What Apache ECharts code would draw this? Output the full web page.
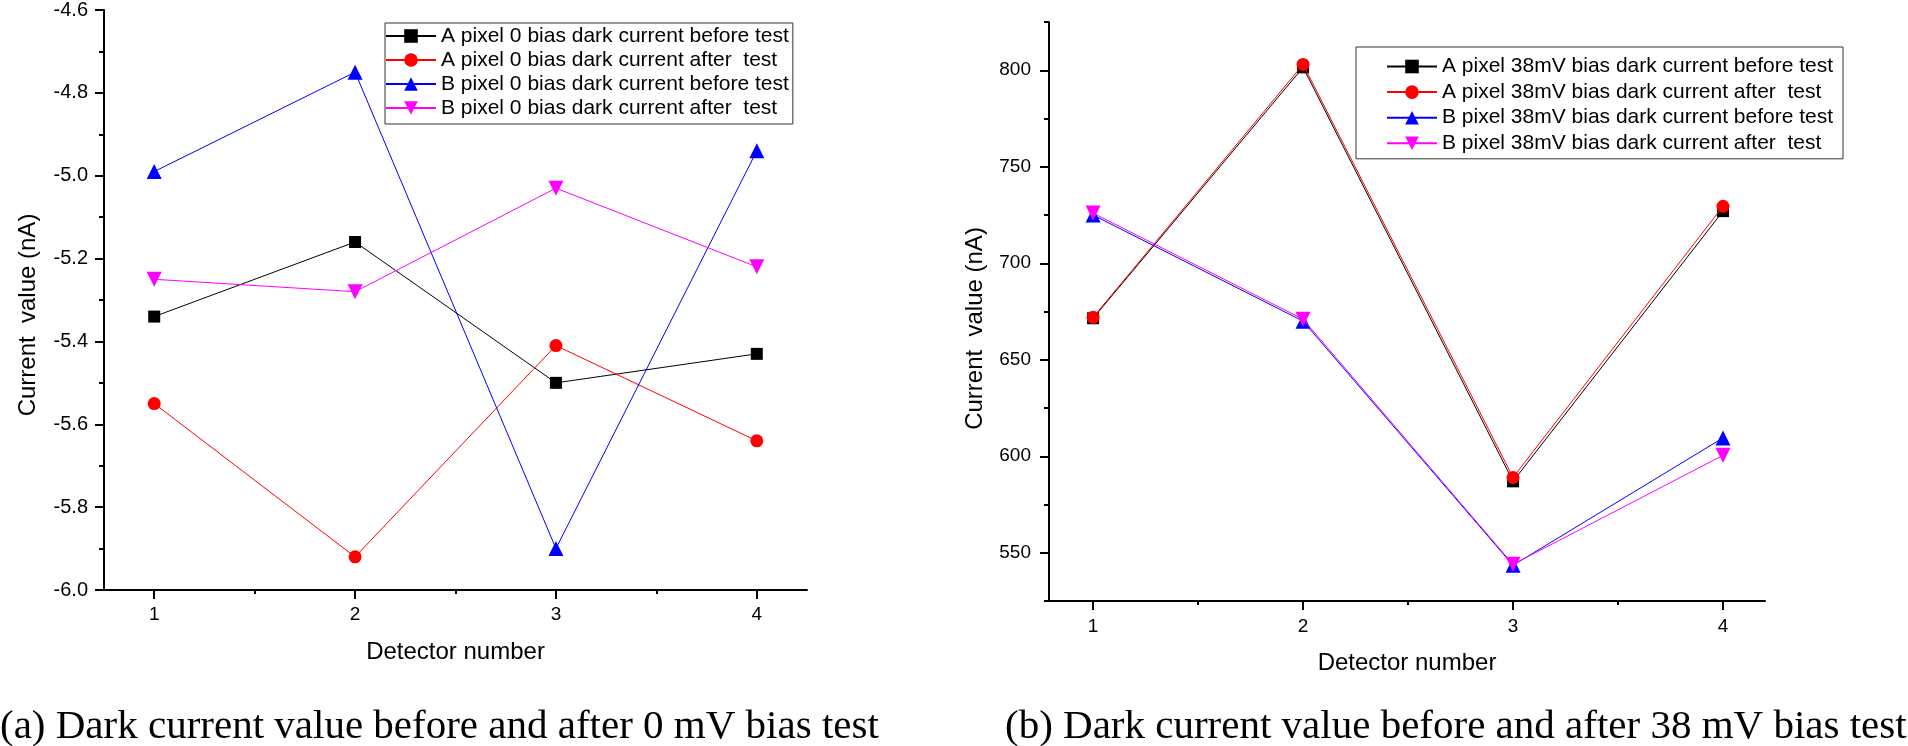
<!DOCTYPE html>
<html>
<head>
<meta charset="utf-8">
<script src="https://cdn.jsdelivr.net/npm/echarts@6/dist/echarts.min.js"></script>
<style>
html,body{margin:0;padding:0;background:#fff;}
#chart{width:1908px;height:746px;}
</style>
</head>
<body>
<div id="chart"></div>
<script>
// ---------- data ----------
const detectors = [1, 2, 3, 4];

const leftNames = [
  'A pixel 0 bias dark current before test',
  'A pixel 0 bias dark current after  test',
  'B pixel 0 bias dark current before test',
  'B pixel 0 bias dark current after  test'
];
const leftABefore = [-5.34, -5.16, -5.50, -5.43];
const leftAAfter  = [-5.55, -5.92, -5.41, -5.64];
const leftBBefore = [-4.99, -4.75, -5.90, -4.94];
const leftBAfter  = [-5.25, -5.28, -5.03, -5.22];

const rightNames = [
  'A pixel 38mV bias dark current before test',
  'A pixel 38mV bias dark current after  test',
  'B pixel 38mV bias dark current before test',
  'B pixel 38mV bias dark current after  test'
];
const rightABefore = [671.5, 801.5, 587, 727];
const rightAAfter  = [672, 803, 589, 729.5];
const rightBBefore = [725, 670, 543.5, 609.5];
const rightBAfter  = [726, 671, 544, 600.5];

const xMajorTicks = [1, 2, 3, 4];
const xMinorTicks = [1.5, 2.5, 3.5];
const rightYMajor = [550, 600, 650, 700, 750, 800];
const rightYMinor = [525, 575, 625, 675, 725, 775, 825];

const xName = 'Detector number';
const yName = 'Current  value (nA)';
const captionA = '(a) Dark current value before and after 0 mV bias test';
const captionB = '(b) Dark current value before and after 38 mV bias test';

// ---------- styles ----------
const colors = ['#000000', '#ff0000', '#0000ff', '#ff00ff'];
const symbols = ['rect', 'circle', 'triangle', 'triangle'];
const symbolSizes = [12, 13, 15, 15];
const symbolRotates = [0, 0, 0, 180];
const SANS = '"Liberation Sans", Arial, sans-serif';
const SERIF = '"Liberation Serif", "Times New Roman", serif';

function pairs(ys) { return detectors.map((x, i) => [x, ys[i]]); }

function makeSeries(names, arrays, xIdx, yIdx) {
  return arrays.map((arr, i) => ({
    name: names[i],
    type: 'line',
    xAxisIndex: xIdx,
    yAxisIndex: yIdx,
    data: pairs(arr),
    symbol: symbols[i],
    symbolSize: symbolSizes[i],
    symbolRotate: symbolRotates[i],
    lineStyle: { color: colors[i], width: 1 },
    itemStyle: { color: colors[i] },
    z: 2 + i,
    animation: false
  }));
}

const axisLine = { show: true, onZero: false, lineStyle: { color: '#000', width: 2 } };

function mainX(grid, min, max, labelMargin) {
  return {
    type: 'value', gridIndex: grid, min: min, max: max, position: 'bottom',
    axisLine: axisLine,
    axisTick: { show: true, inside: false, length: 9, customValues: xMajorTicks, lineStyle: { color: '#000', width: 2 } },
    axisLabel: { customValues: xMajorTicks, margin: labelMargin, color: '#000', fontSize: 19, fontFamily: SANS },
    splitLine: { show: false },
    name: xName, nameLocation: 'middle', nameGap: 50,
    nameTextStyle: { color: '#000', fontSize: 24, fontFamily: SANS }
  };
}
function minorX(grid, min, max) {
  return {
    type: 'value', gridIndex: grid, min: min, max: max, position: 'bottom',
    axisLine: { show: false },
    axisTick: { show: true, inside: false, length: 4, customValues: xMinorTicks, lineStyle: { color: '#000', width: 2 } },
    axisLabel: { show: false },
    splitLine: { show: false }
  };
}

const option = {
  backgroundColor: '#fff',
  animation: false,
  textStyle: { fontFamily: SANS },
  grid: [
    { left: 104, right: 1101, top: 9, bottom: 156, containLabel: false },
    { left: 1049, right: 143, top: 22, bottom: 145, containLabel: false }
  ],
  xAxis: [
    mainX(0, 0.75, 4.25, 15),
    minorX(0, 0.75, 4.25),
    mainX(1, 0.79, 4.2, 16),
    minorX(1, 0.79, 4.2)
  ],
  yAxis: [
    {
      type: 'value', gridIndex: 0, min: -6.0, max: -4.6, interval: 0.2, position: 'left',
      axisLine: axisLine,
      axisTick: { show: true, inside: false, length: 9, lineStyle: { color: '#000', width: 2 } },
      minorTick: { show: true, splitNumber: 2, length: 5, lineStyle: { color: '#000', width: 2 } },
      axisLabel: { margin: 16, color: '#000', fontSize: 20, fontFamily: SANS, formatter: v => v.toFixed(1) },
      splitLine: { show: false }, minorSplitLine: { show: false },
      name: yName, nameLocation: 'middle', nameGap: 64,
      nameTextStyle: { color: '#000', fontSize: 24, fontFamily: SANS, padding: [0, 30, 0, 0] }
    },
    {
      type: 'value', gridIndex: 1, min: 525, max: 825, position: 'left',
      axisLine: axisLine,
      axisTick: { show: true, inside: false, length: 9, customValues: rightYMajor, lineStyle: { color: '#000', width: 2 } },
      axisLabel: { customValues: rightYMajor, margin: 18, color: '#000', fontSize: 19, fontFamily: SANS },
      splitLine: { show: false },
      name: yName, nameLocation: 'middle', nameGap: 62,
      nameTextStyle: { color: '#000', fontSize: 24, fontFamily: SANS, padding: [0, 34, 0, 0] }
    },
    {
      type: 'value', gridIndex: 1, min: 525, max: 825, position: 'left',
      axisLine: { show: false },
      axisTick: { show: true, inside: false, length: 5, customValues: rightYMinor, lineStyle: { color: '#000', width: 2 } },
      axisLabel: { show: false },
      splitLine: { show: false }
    }
  ],
  legend: [
    {
      data: leftNames, orient: 'vertical', left: 385, top: 23,
      padding: [2, 4, 5, 0], itemGap: 2, itemWidth: 50, itemHeight: 17,
      borderColor: '#333', borderWidth: 1, borderRadius: 0,
      textStyle: { color: '#000', fontSize: 21, lineHeight: 22, fontFamily: SANS },
      selectedMode: false
    },
    {
      data: rightNames, orient: 'vertical', left: 1356, top: 47,
      padding: [8, 10, 4, 30], itemGap: 2.6, itemWidth: 50, itemHeight: 17,
      borderColor: '#333', borderWidth: 1, borderRadius: 0,
      textStyle: { color: '#000', fontSize: 21, lineHeight: 23, fontFamily: SANS },
      selectedMode: false
    }
  ],
  series: [].concat(
    makeSeries(leftNames, [leftABefore, leftAAfter, leftBBefore, leftBAfter], 0, 0),
    makeSeries(rightNames, [rightABefore, rightAAfter, rightBBefore, rightBAfter], 2, 1)
  ),
  graphic: [
    { type: 'text', left: 0, top: 707, style: { text: captionA, fill: '#000', font: '41px ' + SERIF } },
    { type: 'text', left: 1005, top: 707, style: { text: captionB, fill: '#000', font: '41px ' + SERIF } }
  ]
};

const chart = echarts.init(document.getElementById('chart'), null, { renderer: 'canvas' });
chart.setOption(option);
</script>
</body>
</html>
